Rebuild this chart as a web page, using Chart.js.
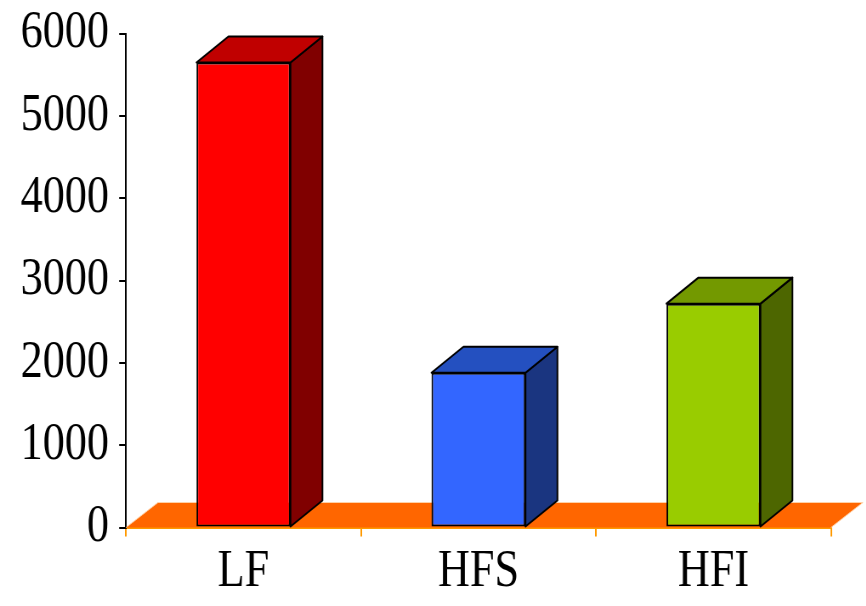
<!DOCTYPE html>
<html>
<head>
<meta charset="utf-8">
<script src="https://cdn.jsdelivr.net/npm/chart.js@4/dist/chart.umd.min.js"></script>
<style>
  html, body { margin: 0; padding: 0; background: #fff; overflow: hidden; }
  #wrap { width: 866px; height: 606px; overflow: hidden; }
  /* the canvas is drawn wide and narrowed so the serif text looks condensed */
  #c { display: block; transform: scaleX(0.85); transform-origin: 0 0; }
</style>
</head>
<body>
<div id="wrap"><canvas id="c" width="1019" height="606"></canvas></div>
<script>
// Categories and values
const categories = ['LF', 'HFS', 'HFI'];
const values = [5650, 1880, 2720];
const yTicks = [0, 1000, 2000, 3000, 4000, 5000, 6000];

// Face colours per column: front, top, side
const frontColors = ['#FF0000', '#3366FF', '#99CC00'];
const topColors = ['#C00000', '#2450C0', '#739900'];
const sideColors = ['#800000', '#1A3580', '#4D6600'];

const DEPTH_X = 37.6;  // horizontal depth offset of the 3D boxes
const DEPTH_Y = 26;    // vertical depth offset of the 3D boxes
const FLOOR_DY = 25;

const SERIF = '"Liberation Serif", "Times New Roman", serif';

const depthPlugin = {
  id: 'depth',
  beforeDatasetsDraw(chart) {
    const ctx = chart.ctx;
    const area = chart.chartArea;
    const yZero = chart.scales.y.getPixelForValue(0);
    // floor
    ctx.save();
    ctx.beginPath();
    ctx.moveTo(area.left, yZero);
    ctx.lineTo(area.right, yZero);
    ctx.lineTo(area.right + DEPTH_X, yZero - FLOOR_DY);
    ctx.lineTo(area.left + DEPTH_X, yZero - FLOOR_DY);
    ctx.closePath();
    ctx.fillStyle = '#FF6600';
    ctx.fill();
    ctx.beginPath();
    ctx.moveTo(area.left, yZero);
    ctx.lineTo(area.left + DEPTH_X, yZero - FLOOR_DY);
    ctx.lineTo(area.right + DEPTH_X, yZero - FLOOR_DY);
    ctx.lineTo(area.right, yZero);
    ctx.strokeStyle = '#FFD2A8';
    ctx.lineWidth = 1;
    ctx.stroke();
    ctx.restore();

    // top and side faces of each column
    const meta = chart.getDatasetMeta(0);
    meta.data.forEach((bar, i) => {
      const p = bar.getProps(['x', 'y', 'width', 'base'], true);
      const l = p.x - p.width / 2, r = p.x + p.width / 2;
      const t = p.y, b = p.base;
      ctx.save();
      ctx.lineWidth = 2;
      ctx.lineJoin = 'round';
      ctx.strokeStyle = '#000';
      // side
      ctx.beginPath();
      ctx.moveTo(r, t);
      ctx.lineTo(r + DEPTH_X, t - DEPTH_Y);
      ctx.lineTo(r + DEPTH_X, b - DEPTH_Y);
      ctx.lineTo(r, b);
      ctx.closePath();
      ctx.fillStyle = sideColors[i];
      ctx.fill();
      ctx.stroke();
      // top
      ctx.beginPath();
      ctx.moveTo(l, t);
      ctx.lineTo(r, t);
      ctx.lineTo(r + DEPTH_X, t - DEPTH_Y);
      ctx.lineTo(l + DEPTH_X, t - DEPTH_Y);
      ctx.closePath();
      ctx.fillStyle = topColors[i];
      ctx.fill();
      ctx.stroke();
      ctx.restore();
    });
  }
};

new Chart(document.getElementById('c'), {
  type: 'bar',
  data: {
    labels: categories,
    datasets: [{
      data: values,
      backgroundColor: frontColors,
      borderColor: '#000',
      borderWidth: 2,
      borderSkipped: false,
      categoryPercentage: 1.0,
      barPercentage: 0.40
    }]
  },
  options: {
    responsive: false,
    animation: false,
    devicePixelRatio: 1,
    layout: { padding: { left: 0, right: 41.4, top: 33.7, bottom: 0 } },
    plugins: { legend: { display: false }, tooltip: { enabled: false } },
    scales: {
      x: {
        offset: true,
        grid: { offset: true, drawOnChartArea: false, color: '#FF9900', lineWidth: 2, tickLength: 9 },
        border: { display: true, color: '#FF9900', width: 3 },
        ticks: { color: '#000', padding: 5, font: { family: SERIF, size: 52 } },
        afterFit(scale) { scale.height = 78.5; }
      },
      y: {
        min: 0,
        max: 6000,
        afterBuildTicks(scale) { scale.ticks = yTicks.map(v => ({ value: v })); },
        grid: { drawOnChartArea: false, color: '#000', lineWidth: 2, tickLength: 8 },
        border: { display: true, color: '#000', width: 2 },
        ticks: {
          color: '#000',
          padding: 12,
          font: { family: SERIF, size: 52, lineHeight: 0.8 },
          callback: (v) => String(v)
        },
        afterFit(scale) { scale.width = 148.2; }
      }
    }
  },
  plugins: [depthPlugin]
});
</script>
</body>
</html>
